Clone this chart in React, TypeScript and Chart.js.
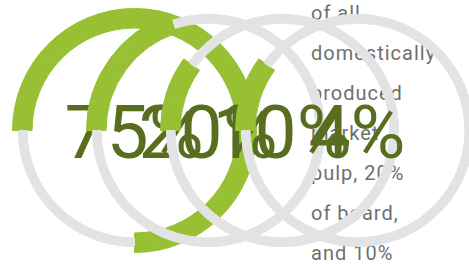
import React, { useEffect, useRef } from "react";
import { Chart, registerables } from "chart.js";

Chart.register(...registerables);

// ---- data ----
const gaugeLabels = ["75%", "20%", "10%", "4%"];
const gaugeValues = [75, 20, 10, 10];
const gaugeMax = 100;
const paragraphLines = [
  "of all",
  "domestically",
  "produced",
  "market",
  "pulp, 20%",
  "of board,",
  "and 10%",
];

// ---- style / layout ----
const GREEN = "#97c032";
const TRACK = "#e3e3e3";
const LABEL_COLOR = "#586e1e";
const TEXT_COLOR = "#6f6f6f";
const CENTERS_X = [134, 208, 282, 357];
const CENTER_Y = 130;
const OUTER_R = 122;
const BORDER = 1;

function Gauge({ value, label, cx, cy }: { value: number; label: string; cx: number; cy: number }) {
  const ref = useRef<HTMLCanvasElement | null>(null);
  useEffect(() => {
    if (!ref.current) return;
    const rest = gaugeMax - value;
    const clear = "rgba(0,0,0,0)";
    const chart = new Chart(ref.current, {
      type: "doughnut",
      data: {
        labels: ["value", "rest"],
        datasets: [
          { data: [value, rest], backgroundColor: [GREEN, clear], borderColor: [GREEN, clear], borderWidth: BORDER, weight: 6 },
          { data: [value, rest], backgroundColor: [GREEN, TRACK], borderColor: [GREEN, TRACK], borderWidth: BORDER, weight: 9 },
          { data: [value, rest], backgroundColor: [GREEN, clear], borderColor: [GREEN, clear], borderWidth: BORDER, weight: 5 },
        ],
      },
      options: {
        responsive: false,
        animation: false,
        cutout: 102.5,
        rotation: -90,
        events: [],
        layout: { padding: 0 },
        plugins: { legend: { display: false }, tooltip: { enabled: false } },
      },
    } as any);
    return () => chart.destroy();
  }, [value]);
  const size = OUTER_R * 2 + BORDER;
  return (
    <>
      <canvas
        ref={ref}
        width={size}
        height={size}
        style={{ position: "absolute", left: cx - size / 2, top: cy - size / 2, width: size, height: size }}
      />
      <div
        style={{
          position: "absolute",
          left: cx - 150,
          width: 300,
          top: 95,
          textAlign: "center",
          fontFamily: "Roboto, sans-serif",
          fontSize: 75,
          lineHeight: "75px",
          color: LABEL_COLOR,
          whiteSpace: "nowrap",
        }}
      >
        {label}
      </div>
    </>
  );
}

export default function App() {
  return (
    <div
      style={{
        position: "fixed",
        left: 0,
        top: 0,
        width: 469,
        height: 264,
        overflow: "hidden",
        background: "#ffffff",
      }}
    >
      <div
        style={{
          position: "absolute",
          left: 311,
          top: -7,
          fontFamily: "Roboto, sans-serif",
          fontSize: 20,
          lineHeight: "40px",
          letterSpacing: "1px",
          color: TEXT_COLOR,
          whiteSpace: "nowrap",
        }}
      >
        {paragraphLines.map((l, i) => (
          <div key={i}>{l}</div>
        ))}
      </div>
      {gaugeValues.map((v, i) => (
        <Gauge key={i} value={v} label={gaugeLabels[i]} cx={CENTERS_X[i]} cy={CENTER_Y} />
      ))}
    </div>
  );
}
